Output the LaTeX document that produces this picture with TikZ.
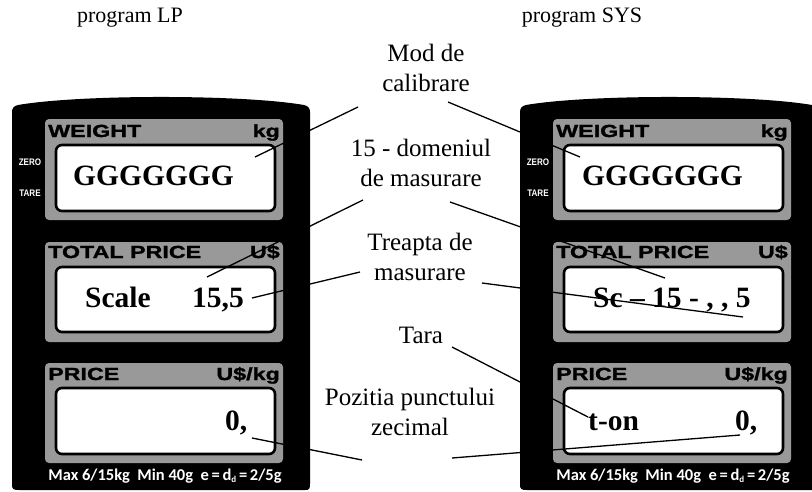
\documentclass[tikz,border=0pt]{standalone}
\usepackage{fontspec}
\setmainfont{Liberation Serif}
\newfontfamily\hsans[FakeStretch=1.33,FakeBold=1.5]{Liberation Sans}
\newfontfamily\tsans[FakeStretch=0.85]{Liberation Sans}
\newfontfamily\carl{Carlito}
\begin{document}
\begin{tikzpicture}[x=1pt,y=-1pt,
  lbl/.style={font=\fontsize{25}{30.5}\selectfont, align=center, inner sep=0pt},
  ttl/.style={font=\fontsize{22}{24}\selectfont, inner sep=0pt},
  big/.style={font=\fontsize{29.5}{32}\selectfont\bfseries, inner sep=0pt, anchor=base west},
  hdr/.style={font=\hsans\bfseries\fontsize{17.5}{18}\selectfont, inner sep=0pt},
  tiny/.style={font=\tsans\bfseries\fontsize{9.5}{10}\selectfont, text=white, inner sep=0pt, anchor=base},
  maxl/.style={font=\carl\bfseries\fontsize{16.5}{17}\selectfont, text=white, inner sep=0pt, anchor=base},
  body/.style={fill=black},
  frame/.style={fill=black!40, rounded corners=4pt},
  win/.style={fill=white, draw=black, line width=2.6pt, rounded corners=6pt},
  con/.style={line width=1.3pt, draw=black}
]
\useasboundingbox (0,0) rectangle (812,491);
% panels
\foreach \dx in {0,508}{
\begin{scope}[xshift=\dx]
\fill[body] (12,484) -- (12,112) .. controls (12,108) and (14,106) .. (18,105)
  .. controls (80,94.3) and (242,94.3) .. (304,105)
  .. controls (308,106) and (310,108) .. (310,112) -- (310,484)
  .. controls (310,489) and (309,490) .. (305,490) -- (19,490)
  .. controls (13,490) and (12,489) .. (12,484) -- cycle;
\fill[frame] (45,119) rectangle (283,220);
\draw[win] (56,145) rectangle (275,211);
\fill[frame] (45,242) rectangle (283,342);
\draw[win] (56,267) rectangle (275,332);
\fill[frame] (45,363) rectangle (283,463);
\draw[win] (56,388) rectangle (275,454);
\end{scope}}
% left headers
\node[hdr, anchor=base west] (lw) at (48,137) {WEIGHT};
\node[hdr, anchor=base east] (lkg) at (280,137) {kg};
\node[hdr, anchor=base west] (ltp) at (48,258) {TOTAL PRICE};
\node[hdr, anchor=base east] (lus) at (280,258) {U\$};
\node[hdr, anchor=base west] (lpr) at (48,380) {PRICE};
\node[hdr, anchor=base east] (lusk) at (280,380) {U\$/kg};
\node[tiny] (lz) at (30,165) {ZERO};
\node[tiny] (lt) at (30,196) {TARE};
\node[maxl] (lmax) at (165,480) {Max 6/15kg\ \ Min 40g\ \ e\,=\,d\raisebox{-2pt}{\fontsize{9}{9}\selectfont d}\,=\,2/5g};
% right headers
\node[hdr, anchor=base west] (rw) at (556,137) {WEIGHT};
\node[hdr, anchor=base east] (rkg) at (788,137) {kg};
\node[hdr, anchor=base west] (rtp) at (556,258) {TOTAL PRICE};
\node[hdr, anchor=base east] (rus) at (788,258) {U\$};
\node[hdr, anchor=base west] (rpr) at (556,380) {PRICE};
\node[hdr, anchor=base east] (rusk) at (788,380) {U\$/kg};
\node[tiny] (rz) at (538,165) {ZERO};
\node[tiny] (rt) at (538,196) {TARE};
\node[maxl] (rmax) at (673,480) {Max 6/15kg\ \ Min 40g\ \ e\,=\,d\raisebox{-2pt}{\fontsize{9}{9}\selectfont d}\,=\,2/5g};
% display contents
\node[big] (lg) at (73,185) {GGGGGGG};
\node[big] (lsc) at (85,307) {Scale};
\node[big] (l155) at (192,307) {15,5};
\node[big] (l0) at (225,430) {0,};
\node[big] (rg) at (582,185) {GGGGGGG};
\node[big] (rsc) at (593,307) {Sc -- 15 - , , 5};
\node[big] (rton) at (588,430) {t-on};
\node[big] (r0) at (735,430) {0,};
% titles
\node[ttl] (tlp) at (130,18) {program LP};
\node[ttl] (tsys) at (582,18) {program SYS};
% labels
\node[lbl] (mod) at (426,68) {Mod de\\calibrare};
\node[lbl] (dom) at (421,163) {15 - domeniul\\de masurare};
\node[lbl] (trp) at (420,257) {Treapta de\\masurare};
\node[lbl] (tara) at (421,335) {Tara};
\node[lbl] (poz) at (410,412) {Pozitia punctului\\zecimal};
% connector end points
\coordinate (m1) at (358,107); \coordinate (m1e) at (255,157);
\coordinate (m2) at (448,102); \coordinate (m2e) at (580,157);
\coordinate (d1) at (363,200); \coordinate (d1e) at (207,277);
\coordinate (d2) at (450,202); \coordinate (d2e) at (665,278);
\coordinate (t1) at (360,272); \coordinate (t1e) at (252,298);
\coordinate (t2) at (482,283); \coordinate (t2e) at (743,317);
\coordinate (ta) at (452,347); \coordinate (tae) at (588,417);
\coordinate (p1) at (362,460); \coordinate (p1e) at (252,438);
\coordinate (p2) at (452,458); \coordinate (p2e) at (740,435);
\draw[con] (m1) -- (m1e);
\draw[con] (m2) -- (m2e);
\draw[con] (d1) -- (d1e);
\draw[con] (d2) -- (d2e);
\draw[con] (t1) -- (t1e);
\draw[con] (t2) -- (t2e);
\draw[con] (ta) -- (tae);
\draw[con] (p1) -- (p1e);
\draw[con] (p2) -- (p2e);
\end{tikzpicture}
\end{document}
